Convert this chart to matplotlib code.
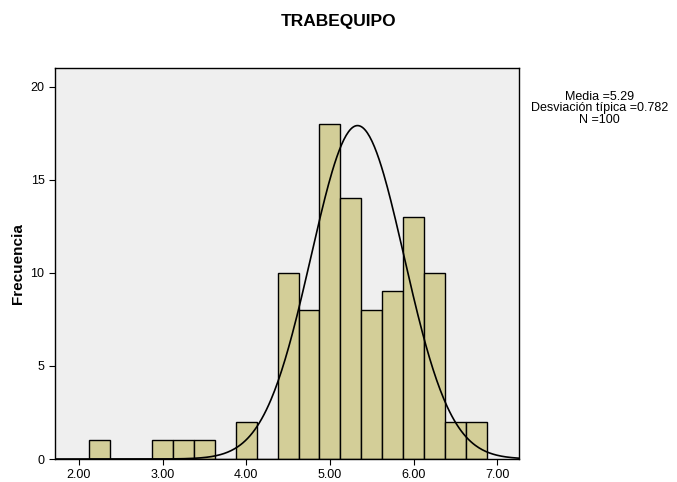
import numpy as np
import matplotlib.pyplot as plt

plt.rcParams['font.family'] = ['Liberation Sans', 'DejaVu Sans']

# histogram bins (width 0.25) and counts
bin_centers = [2.25, 2.50, 2.75, 3.00, 3.25, 3.50, 3.75, 4.00, 4.25, 4.50,
               4.75, 5.00, 5.25, 5.50, 5.75, 6.00, 6.25, 6.50, 6.75]
counts = [1, 0, 0, 1, 1, 1, 0, 2, 0, 10, 8, 18, 14, 8, 9, 13, 10, 2, 2]
bin_width = 0.25

# normal curve as drawn
curve_mean = 5.33
curve_sd = 0.557
n_total = 100

stats_text = 'Media =5.29\nDesviación típica =0.782\nN =100'
x_ticks = [2.0, 3.0, 4.0, 5.0, 6.0, 7.0]
y_ticks = [0, 5, 10, 15, 20]

fig = plt.figure(figsize=(6.77, 4.82), dpi=100)
ax = fig.add_axes([0.0812, 0.0477, 0.6854, 0.8113])
ax.set_facecolor('#EFEFEF')

ax.bar(bin_centers, counts, width=bin_width, color='#D3CE98',
       edgecolor='black', linewidth=1.0, zorder=2)

xs = np.linspace(1.7, 7.3, 400)
ys = n_total * bin_width / (curve_sd * np.sqrt(2 * np.pi)) * \
    np.exp(-0.5 * ((xs - curve_mean) / curve_sd) ** 2)
ax.plot(xs, ys, color='black', linewidth=1.2, zorder=3)

ax.set_xlim(1.713, 7.26)
ax.set_ylim(0, 21)
ax.set_xticks(x_ticks)
ax.set_xticklabels(['%.2f' % t for t in x_ticks])
ax.set_yticks(y_ticks)
ax.tick_params(direction='out', length=4, labelsize=9, colors='black')
for s in ax.spines.values():
    s.set_linewidth(1.0)

ax.set_ylabel('Frecuencia', fontsize=11, fontweight='bold', labelpad=4)
fig.text(0.5, 0.956, 'TRABEQUIPO', ha='center', va='center',
         fontsize=12.5, fontweight='bold')
fig.text(0.885, 0.812, stats_text, ha='center', va='top',
         fontsize=9, linespacing=0.95)

fig.savefig('out.png', dpi=100)
